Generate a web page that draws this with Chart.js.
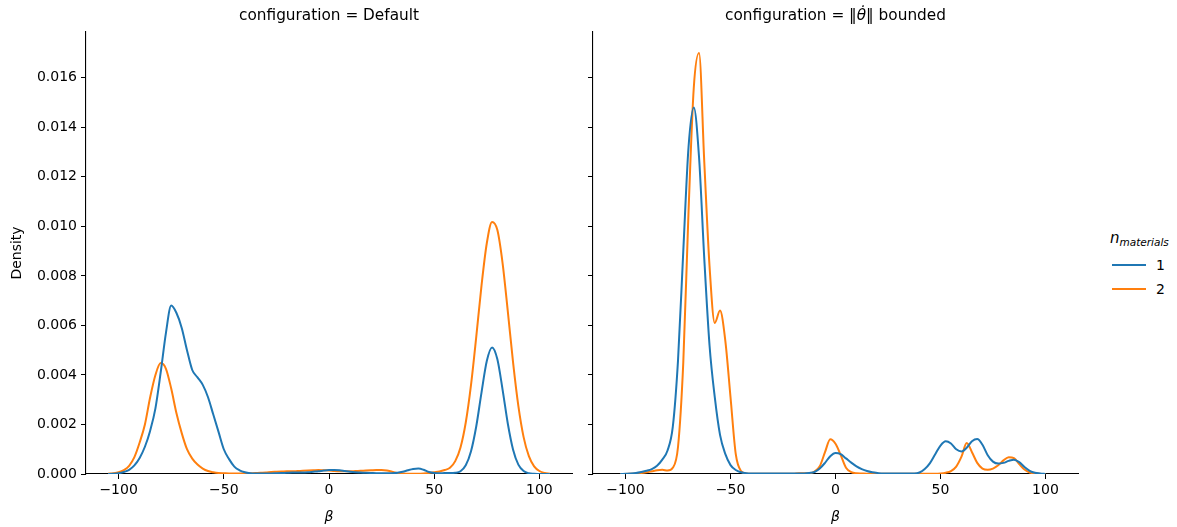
<!DOCTYPE html>
<html>
<head>
<meta charset="utf-8">
<script src="https://cdn.jsdelivr.net/npm/chart.js@4.4.1/dist/chart.umd.min.js"></script>
<style>
  html, body { margin:0; padding:0; background:#fff; }
  body { width:1177px; height:527px; position:relative; overflow:hidden; font-family:"DejaVu Sans", sans-serif; color:#000; }
  canvas { position:absolute; top:0; }
  .ptitle { position:absolute; top:5px; text-align:center; font-size:15.3px; white-space:nowrap; line-height:20px; }
  .legend { position:absolute; left:1105px; top:229px; font-size:14px; }
  .lg-title { position:absolute; left:5px; top:0; white-space:nowrap; font-size:15px; }
  .lg-title sub { font-size:10.5px; vertical-align:-3px; }
  .lg-line { position:absolute; left:7px; width:34px; height:2px; }
  .lg-lab { position:absolute; left:51px; font-size:14px; line-height:16px; }
</style>
</head>
<body>
<canvas id="c1" width="580" height="527" style="left:0px;width:580px;height:527px"></canvas>
<canvas id="c2" width="500" height="527" style="left:580px;width:500px;height:527px"></canvas>
<div class="ptitle" style="left:86px;width:486px">configuration = Default</div>
<div class="ptitle" style="left:593px;width:485px">configuration = ‖<i>θ̇</i>‖ bounded</div>
<div class="legend">
  <div class="lg-title"><i>n</i><sub><i>materials</i></sub></div>
  <div class="lg-line" style="top:35px;background:#1f77b4"></div>
  <div class="lg-lab" style="top:28px">1</div>
  <div class="lg-line" style="top:59px;background:#ff7f0e"></div>
  <div class="lg-lab" style="top:52px">2</div>
</div>
<script>
// ---- data ----
const beta = [-105,-102.5,-100,-97.5,-95,-92.5,-90,-87.5,-85,-82.5,
  -80,-77.5,-75,-72.5,-70,-67.5,-65,-62.5,-60,-57.5,
  -55,-52.5,-50,-47.5,-45,-42.5,-40,-37.5,-35,-32.5,
  -30,-27.5,-25,-22.5,-20,-17.5,-15,-12.5,-10,-7.5,
  -5,-2.5,0,2.5,5,7.5,10,12.5,15,17.5,
  20,22.5,25,27.5,30,32.5,35,37.5,40,42.5,
  45,47.5,50,52.5,55,57.5,60,62.5,65,67.5,
  70,72.5,75,77.5,80,82.5,85,87.5,90,92.5,
  95,97.5,100,102.5,105];

const defaultN1 = [0,0.00001,0.00003,0.00008,0.00017,0.00035,0.00065,0.0011,0.00175,0.00265,
  0.0041,0.0057,0.0068,0.0065,0.0059,0.005,0.0042,0.0039,0.0036,0.0031,
  0.0024,0.0017,0.001,0.0006,0.0003,0.00015,0.00007,0.00003,0.00002,0.00002,
  0.00002,0.00002,0.00003,0.00004,0.00005,0.00006,0.00006,0.00006,0.00007,0.00009,
  0.00011,0.00014,0.00016,0.00016,0.00015,0.00012,0.00009,0.00007,0.00006,0.00005,
  0.00004,0.00003,0.00003,0.00003,0.00003,0.00005,0.00009,0.00015,0.0002,0.00022,
  0.00017,0.00008,0.00004,0.00003,0.00004,0.00004,0.00005,0.00011,0.00035,0.00092,
  0.00193,0.0033,0.00456,0.00511,0.00464,0.00341,0.00203,0.00098,0.00038,0.00012,
  0.00003,0.00001,0,0,0];

const defaultN2 = [0.00001,0.00003,0.00007,0.00016,0.00033,0.00068,0.00127,0.002,0.0031,0.004,
  0.00448,0.00425,0.00345,0.00245,0.00165,0.001,0.00062,0.00038,0.00022,0.00012,
  0.00007,0.00004,0.00003,0.00002,0.00002,0.00002,0.00002,0.00003,0.00004,0.00005,
  0.00006,0.00008,0.00009,0.0001,0.00011,0.00011,0.00012,0.00013,0.00014,0.00015,
  0.00016,0.00015,0.00014,0.00012,0.00011,0.00011,0.00011,0.00012,0.00013,0.00014,
  0.00015,0.00016,0.00016,0.00014,0.00009,0.00004,0.00002,0.00001,0.00001,0.00001,
  0.00002,0.00004,0.00007,0.0001,0.00016,0.00025,0.00052,0.00107,0.00208,0.0036,
  0.00555,0.00762,0.00932,0.01018,0.00986,0.00852,0.00656,0.0045,0.00275,0.00149,
  0.00072,0.00031,0.00012,0.00004,0.00001];

const boundedN1 = [null,0,0.00001,0.00002,0.00004,0.00008,0.00013,0.0002,0.00033,0.00058,
  0.00095,0.0019,0.0046,0.009,0.0132,0.0148,0.0128,0.0087,0.0052,0.0031,
  0.00158,0.00081,0.00036,0.00016,0.00007,0.00003,0.00002,0.00002,0.00002,0.00002,
  0.00002,0.00002,0.00002,0.00002,0.00002,0.00002,0.00002,0.00004,0.00008,0.00022,
  0.00045,0.00072,0.00085,0.0008,0.00063,0.00046,0.00031,0.0002,0.00012,0.00007,
  0.00004,0.00002,0.00002,0.00002,0.00002,0.00002,0.00002,0.00002,0.00006,0.0002,
  0.00044,0.0008,0.00115,0.00132,0.00123,0.001,0.00091,0.00106,0.00132,0.00141,
  0.00118,0.00076,0.0005,0.00042,0.00045,0.00053,0.00058,0.00048,0.00028,0.00013,
  0.00005,0.00002,0,null,null];

const boundedN2 = [null,0,0,0.00001,0.00002,0.00004,0.00007,0.00011,0.00015,0.00017,
  0.00014,0.00025,0.0011,0.0045,0.0106,0.0156,0.017,0.0126,0.0084,0.0061,
  0.0066,0.0054,0.0031,0.0008,0.00012,0.00002,0.00001,0.00001,0.00001,0.00001,
  0.00001,0.00001,0.00001,0.00001,0.00001,0.00003,0.00003,0.00003,0.0001,0.00031,
  0.00088,0.0014,0.00122,0.00076,0.00025,0.00008,0.00003,0.00002,0.00001,0.00001,
  0.00001,0.00001,0.00001,0.00001,0.00001,0.00001,0.00001,0.00001,0.00001,0.00001,
  0.00001,0.00001,0.00002,0.00005,0.00012,0.0003,0.0007,0.00125,0.00088,0.00045,
  0.00022,0.00017,0.00022,0.00035,0.00055,0.00068,0.00064,0.0004,0.00018,0.00006,
  0.00002,0,0,null,null];

const xTicks = [-100, -50, 0, 50, 100];
const yTicks = [0, 0.002, 0.004, 0.006, 0.008, 0.010, 0.012, 0.014, 0.016];
const seriesLabels = ['1', '2'];
const seriesColors = ['#1f77b4', '#ff7f0e'];

// ---- chart building ----
const FONT = 'DejaVu Sans';
function pts(vals) { return beta.map((b, i) => ({x: b, y: vals[i]})); }
function ds(vals, k) {
  return { label: seriesLabels[k], data: pts(vals), borderColor: seriesColors[k],
    borderWidth: 2, pointRadius: 0, fill: false, cubicInterpolationMode: 'monotone', spanGaps: false };
}
function fmtX(v) { return (v < 0 ? '\u2212' + Math.abs(v) : String(v)); }

function makeChart(id, sets, showY, yWidth, padRight) {
  return new Chart(document.getElementById(id), {
    type: 'line',
    data: { datasets: sets },
    options: {
      responsive: false, animation: false, devicePixelRatio: 1,
      layout: { padding: { top: 32, right: padRight, left: 0, bottom: 0 } },
      plugins: { legend: { display: false }, tooltip: { enabled: false }, title: { display: false } },
      scales: {
        x: {
          type: 'linear', min: -115.5, max: 115.5,
          afterBuildTicks: s => { s.ticks = xTicks.map(v => ({value: v})); },
          afterFit: s => { s.height = 53; },
          ticks: { callback: v => fmtX(v), padding: 3, color: '#000', maxRotation: 0, autoSkip: false,
                   font: { family: FONT, size: 14 } },
          grid: { display: true, drawOnChartArea: false, drawTicks: true, tickLength: 5, tickColor: '#000', tickWidth: 1 },
          border: { display: true, color: '#000', width: 1.1 },
          title: { display: true, text: 'β', color: '#000', font: { family: FONT, size: 14, style: 'italic' },
                   padding: { top: 0, bottom: 1 } }
        },
        y: {
          type: 'linear', min: 0, max: 0.01785,
          afterBuildTicks: s => { s.ticks = yTicks.map(v => ({value: v})); },
          afterFit: s => { s.width = yWidth; },
          ticks: { callback: v => showY ? v.toFixed(3) : '', padding: 4, color: '#000',
                   font: { family: FONT, size: 14 } },
          grid: { display: true, drawOnChartArea: false, drawTicks: true, tickLength: 5, tickColor: '#000', tickWidth: 1 },
          border: { display: true, color: '#000', width: 1.1 },
          title: { display: showY, text: 'Density', color: '#000', font: { family: FONT, size: 14 },
                   padding: { top: 9, bottom: 0 } }
        }
      }
    }
  });
}

makeChart('c1', [ds(defaultN1, 0), ds(defaultN2, 1)], true, 86, 8);
makeChart('c2', [ds(boundedN1, 0), ds(boundedN2, 1)], false, 13, 2);
</script>
</body>
</html>
